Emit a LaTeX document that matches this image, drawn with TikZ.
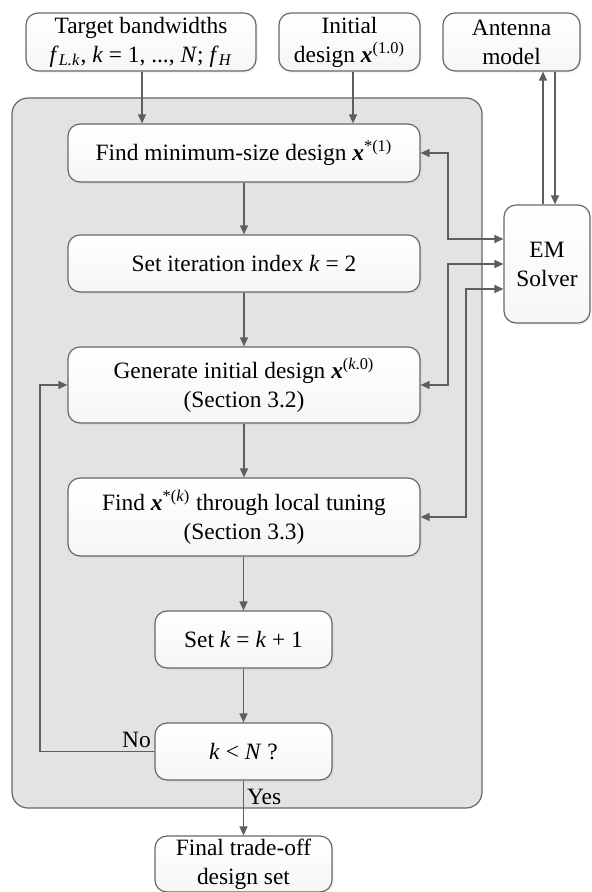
\documentclass[tikz,border=0pt]{standalone}
\usepackage{fontspec}
\setmainfont{Liberation Serif}
\usepackage{tikz}
\usetikzlibrary{arrows.meta,shadows}
\definecolor{edgegray}{HTML}{676767}
\definecolor{panelgray}{HTML}{E3E3E3}
\definecolor{linegray}{HTML}{5E5E5E}
\newcommand{\vx}{\textbf{\textit{x}}}

\begin{document}
\begin{tikzpicture}[x=0.5pt,y=-0.5pt,>={Triangle[length=4.5pt,width=4pt]},
  blk/.style={draw=edgegray,line width=0.6pt,rounded corners=6pt,
    top color=white,bottom color=gray!7,align=center,inner sep=1pt,
    drop shadow={shadow xshift=1pt,shadow yshift=-1pt,opacity=0.08},
    font=\fontsize{11.7}{14.5}\selectfont},
  lbl/.style={font=\fontsize{11.7}{14.5}\selectfont,inner sep=1.5pt},
  link/.style={draw=linegray,line width=0.65pt,->},
  both/.style={draw=linegray,line width=0.65pt,<->}]
  \useasboundingbox (0,0) rectangle (591,892);
  \draw[draw=edgegray,fill=panelgray,line width=0.6pt,rounded corners=8pt]
      (12,98) rectangle (482,808);

  \node[blk,minimum width=115pt,minimum height=29pt] (tgt) at (141,42)
      {Target bandwidths\\ \textit{f}\textsubscript{\textit{L.k}}, \textit{k} = 1, ..., \textit{N}; \textit{f}\textsubscript{\textit{H}}};
  \node[blk,minimum width=70.5pt,minimum height=29pt] (init) at (349.5,42)
      {Initial\\ design \vx\textsuperscript{(1.0)}};
  \node[blk,minimum width=68.5pt,minimum height=29pt] (ant) at (511.5,42)
      {Antenna\\ model};
  \node[blk,minimum width=176pt,minimum height=29pt] (b1) at (244,153)
      {Find minimum-size design \vx\textsuperscript{*(1)}};
  \node[blk,minimum width=176pt,minimum height=28.5pt] (b2) at (244,263.5)
      {Set iteration index \textit{k} = 2};
  \node[blk,minimum width=176pt,minimum height=38pt] (b3) at (244,385)
      {Generate initial design \vx\textsuperscript{(\textit{k}.0)}\\ (Section 3.2)};
  \node[blk,minimum width=176pt,minimum height=39pt] (b4) at (244,517)
      {Find \vx\textsuperscript{*(\textit{k})} through local tuning\\ (Section 3.3)};
  \node[blk,minimum width=88.5pt,minimum height=28.5pt] (b5) at (243.5,639.5)
      {Set \textit{k} = \textit{k} + 1};
  \node[blk,minimum width=88.5pt,minimum height=28.5pt] (b6) at (243.5,751.5)
      {\textit{k} < \textit{N} ?};
  \node[blk,minimum width=88.5pt,minimum height=28pt] (fin) at (243.5,864)
      {Final trade-off\\ design set};
  \node[blk,minimum width=43pt,minimum height=59pt] (em) at (547,264)
      {EM\\ Solver};

  \coordinate (lp) at (40,0);
  \coordinate (c1) at (448,0);
  \coordinate (c2) at (466,0);
  \coordinate (up) at (543,0);
  \coordinate (dn) at (555,0);

  \draw[link] ([xshift=0.5pt]tgt.south) -- ([xshift=0.5pt]tgt.south |- b1.north);
  \draw[link] ([xshift=1.75pt]init.south) -- ([xshift=1.75pt]init.south |- b1.north);
  \draw[link] (b1) -- (b2);
  \draw[link] (b2) -- (b3);
  \draw[link] (b3) -- (b4);
  \draw[link] (b4.south -| b5) -- (b5);
  \draw[link] (b5) -- (b6);
  \draw[link] (b6) -- (fin) node[lbl,pos=0.3,right] {Yes};
  \draw[link] (b6.west) node[lbl,above left] {No} -- (b6.west -| lp) |- (b3.west);

  \draw[both] (b1.east) -- (b1.east -| c1) |- ([yshift=12.5pt]em.west);
  \draw[both] (em.west) -- (em.west -| c1) |- (b3.east);
  \draw[both] ([yshift=-12.5pt]em.west) -- ([yshift=-12.5pt]em.west -| c2) |- (b4.east);
  \draw[link] (em.north -| up) -- (ant.south -| up);
  \draw[link] (ant.south -| dn) -- (em.north -| dn);
\end{tikzpicture}
\end{document}
